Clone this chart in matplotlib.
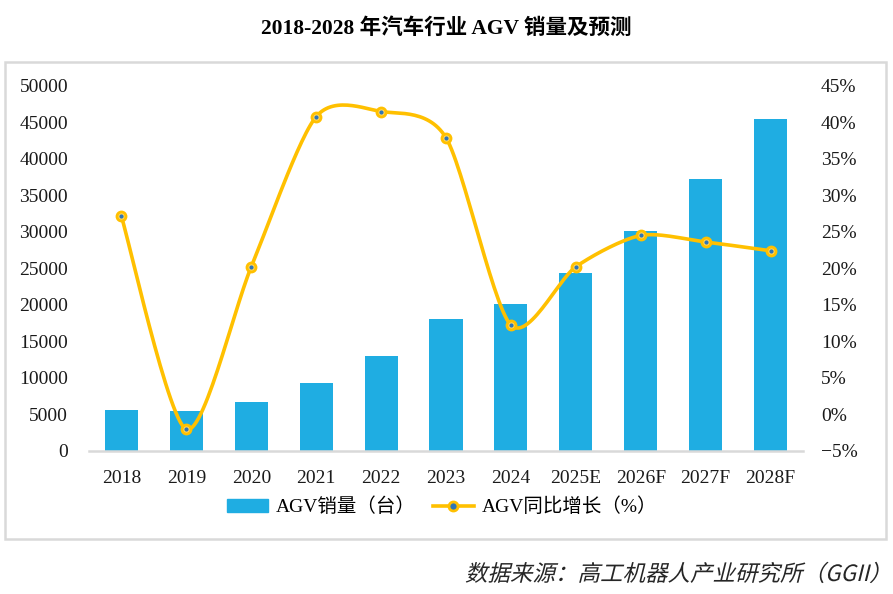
import numpy as np
import matplotlib.pyplot as plt
from matplotlib.patches import Rectangle, PathPatch
from matplotlib.textpath import TextPath
from matplotlib.font_manager import FontProperties
from matplotlib.transforms import Affine2D, IdentityTransform

plt.rcParams['font.family'] = ['Liberation Serif', 'Noto Sans CJK SC']

years = ["2018", "2019", "2020", "2021", "2022", "2023", "2024", "2025E", "2026F", "2027F", "2028F"]
sales = [5500, 5400, 6600, 9200, 13000, 18000, 20100, 24300, 30100, 37300, 45500]
growth = [27.1, -2.1, 20.2, 40.8, 41.5, 37.9, 12.2, 20.2, 24.5, 23.6, 22.4]

bar_color = "#1FADE2"
line_color = "#FFC000"


def smooth(x, y, n=30, k=7.5):
    # smoothed line through the points, cubic Bezier segments
    x = np.asarray(x, float)
    y = np.asarray(y, float)
    px = np.concatenate([[x[0]], x, [x[-1]]])
    py = np.concatenate([[y[0]], y, [y[-1]]])
    xs, ys = [], []
    t = np.linspace(0, 1, n)
    for i in range(1, len(px) - 2):
        p0 = np.array([px[i], py[i]])
        p3 = np.array([px[i + 1], py[i + 1]])
        p1 = p0 + (p3 - np.array([px[i - 1], py[i - 1]])) / k
        p2 = p3 - (np.array([px[i + 2], py[i + 2]]) - p0) / k
        b = ((1 - t) ** 3)[:, None] * p0 + (3 * (1 - t) ** 2 * t)[:, None] * p1 \
            + (3 * (1 - t) * t ** 2)[:, None] * p2 + (t ** 3)[:, None] * p3
        xs.extend(b[:, 0])
        ys.extend(b[:, 1])
    return np.array(xs), np.array(ys)


fig = plt.figure(figsize=(8.93, 5.94), dpi=100)
ax = fig.add_axes([89 / 893, 1 - 450.5 / 594, (803 - 89) / 893, (450.5 - 86) / 594])
ax2 = ax.twinx()

x = np.arange(len(years))
ax.bar(x, sales, width=0.51, color=bar_color, label="AGV销量（台）", zorder=2)
ax.set_xlim(-0.5, len(years) - 0.5)
ax.set_ylim(0, 50000)
ax.set_yticks(np.arange(0, 50001, 5000))
ax.set_yticklabels([str(v) for v in range(0, 50001, 5000)])
ax.set_xticks(x)
ax.set_xticklabels(years)

sx, sy = smooth(x, growth)
ax2.plot(sx, sy, color=line_color, lw=2.6, zorder=3)
ax2.plot(x, growth, "o", ms=6.5, mfc="#FFD966", mec=line_color, mew=2, zorder=4)
ax2.plot(x, growth, "o", ms=2, color="#2E75B6", zorder=5)
ax2.set_ylim(-5, 45)
ax2.set_yticks(np.arange(-5, 46, 5))
ax2.set_yticklabels([("\u2212" if v < 0 else "") + f"{abs(v)}%" for v in range(-5, 46, 5)])

for a in (ax, ax2):
    for s in a.spines.values():
        s.set_visible(False)
    a.tick_params(length=0, labelsize=14, colors="#1a1a1a")
ax.spines["bottom"].set_visible(True)
ax.spines["bottom"].set_color("#D9D9D9")
ax.spines["bottom"].set_linewidth(1.8)
ax.tick_params(axis="y", pad=15)
ax.tick_params(axis="x", pad=14)
ax2.tick_params(axis="y", pad=13)

line_handle = plt.Line2D([], [], color=line_color, lw=2.6, marker="o", ms=6.5,
                         mfc="#2E75B6", mec=line_color, mew=2)
bar_handle = Rectangle((0, 0), 1, 1, color=bar_color)
fig.legend([bar_handle, line_handle], ["AGV销量（台）", "AGV同比增长（%）"],
           loc="center", bbox_to_anchor=(442 / 893, 1 - 507 / 594), ncol=2,
           frameon=False, fontsize=14, handlelength=2.1, columnspacing=0.9,
           handletextpad=0.4)

fig.text(0.5, 1 - 28 / 594, "2018-2028 年汽车行业 AGV 销量及预测", ha="center", va="center",
         fontsize=15.5, fontweight="bold")

# source note, slanted like the original italic
src = "数据来源：高工机器人产业研究所（GGII）"
tp = TextPath((0, 0), src, size=22.5, prop=FontProperties(family="Noto Sans CJK SC"))
ext = tp.get_extents()
tr = Affine2D().translate(-ext.x1, -8).skew_deg(14, 0).translate(878, 594 - 573)
fig.patches.append(PathPatch(tp, transform=tr + IdentityTransform(), color="#262626",
                             lw=0))

fig.patches.append(Rectangle((5 / 893, 1 - 539 / 594), 881 / 893, 477 / 594,
                             transform=fig.transFigure, fill=False,
                             edgecolor="#D9D9D9", lw=1.8))

fig.savefig("out.png", dpi=100)
